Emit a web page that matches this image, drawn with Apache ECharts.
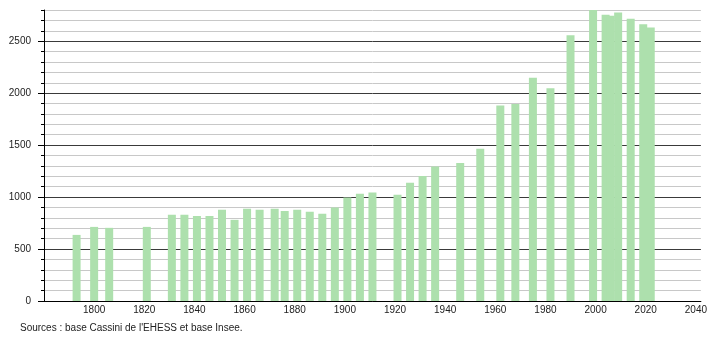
<!DOCTYPE html>
<html>
<head>
<meta charset="utf-8">
<script src="https://cdn.jsdelivr.net/npm/echarts@6/dist/echarts.min.js"></script>
<style>
html,body{margin:0;padding:0;background:#fff;}
#c{width:710px;height:340px;}
</style>
</head>
<body>
<div id="c"></div>
<script>
const years = [1793,1800,1806,1821,1831,1836,1841,1846,1851,1856,1861,1866,1872,1876,1881,1886,1891,1896,1901,1906,1911,1921,1926,1931,1936,1946,1954,1962,1968,1975,1982,1990,1999,2004,2006,2009,2014,2019,2022];
const population = [636,713,704,713,829,829,819,819,877,781,887,877,887,867,877,858,839,899,996,1031,1044,1022,1137,1202,1295,1327,1465,1880,1896,2149,2046,2557,2800,2754,2745,2776,2715,2663,2631];
const xTickLabels = [1800,1820,1840,1860,1880,1900,1920,1940,1960,1980,2000,2020,2040];
const yTickLabels = [0,500,1000,1500,2000,2500];
const sourceText = "Sources : base Cassini de l'EHESS et base Insee.";

const chart = echarts.init(document.getElementById('c'), null, {renderer:'canvas'});
const font = 'Liberation Sans, Arial, sans-serif';
const splitColors = ['#3a3a3a','#c8c8c8','#c8c8c8','#c8c8c8','#c8c8c8'];
chart.setOption({
  animation:false,
  backgroundColor:'#fff',
  grid:{left:44, right:9, top:10, bottom:39, containLabel:false},
  xAxis:{
    type:'value', min:1780, max:2042, interval:20,
    axisLine:{show:true, lineStyle:{color:'#000', width:1}},
    axisTick:{show:false},
    splitLine:{show:false},
    axisLabel:{customValues:xTickLabels, formatter:v=>String(v), color:'#222', fontFamily:font, fontSize:10, margin:4}
  },
  yAxis:[{
    type:'value', min:0, max:2800, interval:100,
    axisLine:{show:true, lineStyle:{color:'#000', width:1}},
    axisTick:{show:true, length:3, lineStyle:{color:'#000'}},
    splitLine:{show:true, lineStyle:{color:splitColors, width:1}},
    axisLabel:{customValues:yTickLabels, formatter:v=>String(v), color:'#222', fontFamily:font, fontSize:10, margin:13}
  },{
    type:'value', min:0, max:2800, position:'left',
    axisLine:{show:false},
    axisTick:{show:true, length:6, customValues:yTickLabels, lineStyle:{color:'#000'}},
    splitLine:{show:false},
    axisLabel:{show:false}
  }],
  graphic:[{
    type:'text', left:20, top:323,
    style:{text:sourceText, font:'10px '+font, fill:'#222'}
  }],
  series:[{
    type:'bar', yAxisIndex:0,
    barWidth:8,
    itemStyle:{color:'#ade0ad'},
    data: years.map((y,i)=>[y, population[i]])
  }]
});
</script>
</body>
</html>
